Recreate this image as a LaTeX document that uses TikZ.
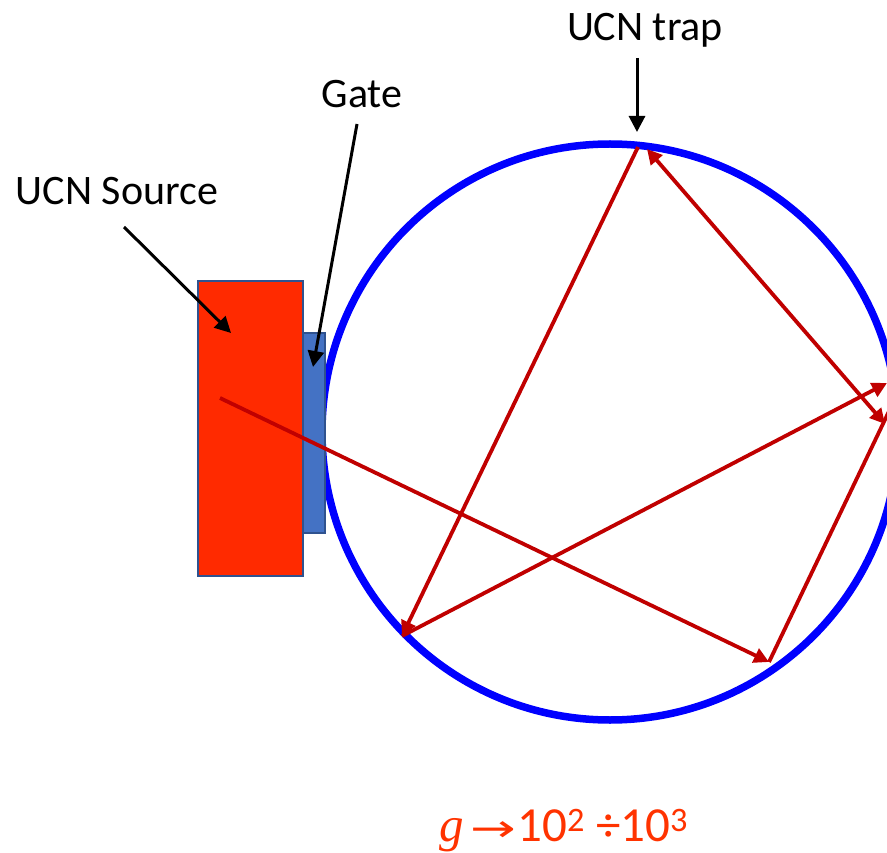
\documentclass[tikz,border=0pt]{standalone}
\usepackage{fontspec}
\usepackage{graphicx}
\setmainfont{Carlito}
\newfontfamily\serifit{Liberation Serif}
\newfontfamily\symfont{DejaVu Sans}
\usetikzlibrary{arrows.meta}
\definecolor{srcred}{HTML}{FF2A00}
\definecolor{edgeblue}{HTML}{2F528F}
\definecolor{gateblue}{HTML}{4472C4}
\definecolor{pathred}{HTML}{C00000}
\definecolor{formred}{HTML}{FF3300}
\tikzset{
  box/.style={draw=edgeblue, line width=2.4pt, inner sep=0pt},
  trail/.style={draw=pathred, line width=3.8pt, -{Triangle[length=15pt,width=15pt]}},
  trailboth/.style={draw=pathred, line width=3.8pt, {Triangle[length=15pt,width=15pt]}-{Triangle[length=15pt,width=15pt]}},
  trailplain/.style={draw=pathred, line width=3.8pt},
  pointer/.style={draw=black, line width=3pt, -{Triangle[length=16pt,width=16pt]}},
  lbl/.style={font=\fontsize{42}{48}\selectfont, inner sep=0pt}
}
\begin{document}
\begin{tikzpicture}[x=1pt,y=-1pt]
\clip (0,0) rectangle (887,853);
\fill[white] (0,0) rectangle (887,853);
% trap
\draw[blue, line width=7.5pt] (610,432) circle[radius=288pt];
% gate and source
\node[box, fill=gateblue, minimum width=22pt, minimum height=200pt] (gate) at (314,433) {};
\node[box, fill=srcred, minimum width=105pt, minimum height=295pt] (src) at (250.5,428.5) {};
% path points
\coordinate (p0) at (220,398);
\coordinate (p1) at (769,662);
\coordinate (p2) at (892,405);
\coordinate (p3a) at (885,424);
\coordinate (p3b) at (647,149);
\coordinate (p4) at (638,147);
\coordinate (p5) at (402,636);
\coordinate (p6) at (887,383);
\draw[trail] (p0) -- (p1);
\draw[trailplain] (p1) -- (p2);
\draw[trailboth] (p3a) -- (p3b);
\draw[trail] (p4) -- (p5);
\draw[trail] (p5) -- (p6);
% labels
\node[lbl, anchor=base] (traplbl) at (645,41) {UCN trap};
\node[lbl, anchor=base] (gatelbl) at (362,108) {Gate};
\node[lbl, anchor=base] (srclbl) at (117,205) {UCN Source};
\coordinate (trapin) at (637,132);
\coordinate (gatein) at (313,367);
\coordinate (srcin) at (231,333);
\draw[pointer] (637,58) -- (trapin);
\draw[pointer] (357,124) -- (gatein);
\draw[pointer] (124,227) -- (srcin);
% formula
\node[inner sep=0pt, anchor=base west, text=formred, font=\fontsize{49}{55}\selectfont] (formula) at (439,841)
  {{\serifit\itshape g}\kern7pt\scalebox{1.3}[0.9]{\symfont\fontsize{42}{48}\selectfont →}\kern1pt10\textsuperscript{2} ÷10\textsuperscript{3}};
\end{tikzpicture}
\end{document}
